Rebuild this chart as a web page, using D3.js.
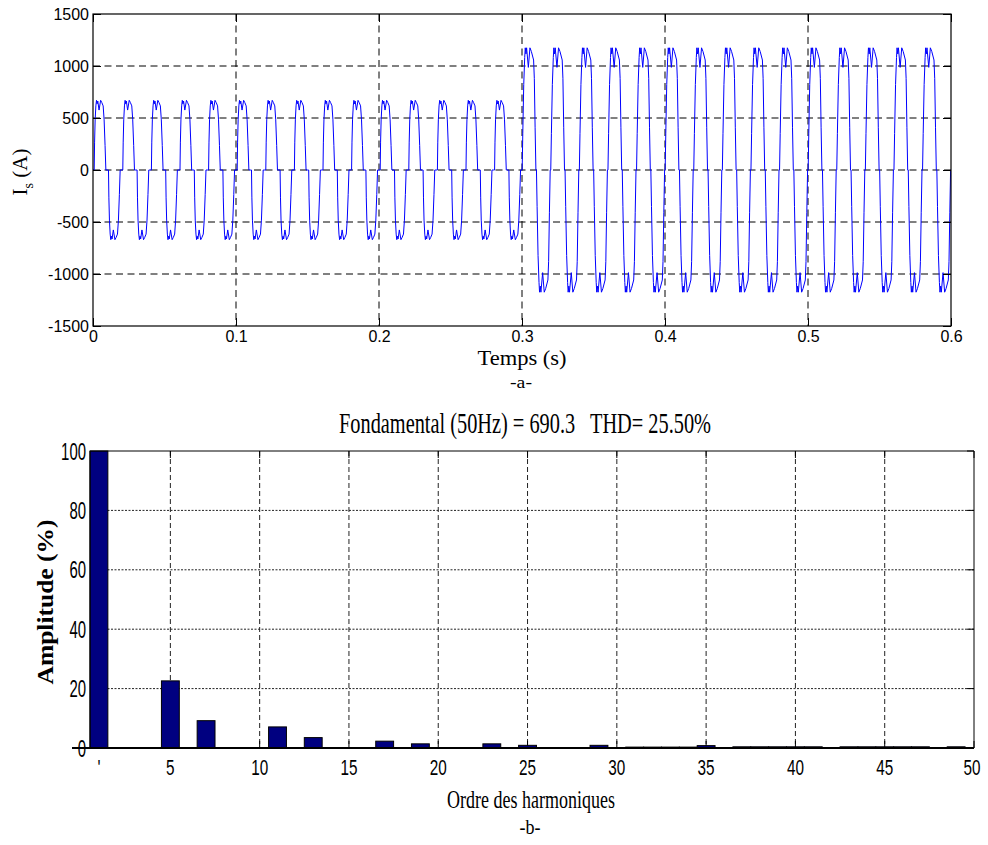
<!DOCTYPE html>
<html>
<head>
<meta charset="utf-8">
<script src="https://cdn.jsdelivr.net/npm/d3@7"></script>
<style>
  body { margin: 0; background: #fff; }
  .sans { font-family: "Liberation Sans", Arial, sans-serif; }
  .serif { font-family: "Liberation Serif", "Times New Roman", serif; }
</style>
</head>
<body>
<svg width="988" height="845"></svg>
<script>
// ---- top chart data: source current Is (A) ----
const cycleFreq = 50;             // Hz, one positive + one negative pulse per cycle
const timeEnd = 0.6;
const stepTimes = [0, 0.3];       // load step at 0.3 s
const stepPeaks = [670, 1175];    // pulse peak (A) in each interval
// one positive pulse, phase in degrees, value as share of the peak
const pulsePhase1 = [0, 15, 20, 27, 36, 44, 52, 60, 76, 96, 110, 128, 140, 152, 162];
const pulseShape1 = [0, 0, 0.4, 0.72, 0.92, 1.0, 0.95, 0.99, 0.86, 1.0, 0.97, 0.92, 0.72, 0.35, 0];
const pulsePhase2 = [0, 2, 10, 22, 34, 41, 50, 58, 80, 100, 118, 146, 155, 165, 175];
const pulseShape2 = [0, 0, 0.3, 0.7, 0.92, 1.0, 0.95, 1.0, 0.84, 1.0, 0.97, 0.9, 0.75, 0.35, 0];
const timeTicks = [0, 0.1, 0.2, 0.3, 0.4, 0.5, 0.6];
const timeTickLabels = ['0', '0.1', '0.2', '0.3', '0.4', '0.5', '0.6'];
const currentTicks = [-1500, -1000, -500, 0, 500, 1000, 1500];
const currentTickLabels = ['-1500', '-1000', '-500', '0', '500', '1000', '1500'];
const currentGrid = [-1000, -500, 0, 500, 1000];

// ---- bottom chart data: harmonic spectrum (% of fundamental) ----
const harmonicOrders = [1, 2, 3, 4, 5, 6, 7, 8, 9, 10, 11, 12, 13, 14, 15, 16, 17, 18, 19, 20,
  21, 22, 23, 24, 25, 26, 27, 28, 29, 30, 31, 32, 33, 34, 35, 36, 37, 38, 39, 40,
  41, 42, 43, 44, 45, 46, 47, 48, 49, 50];
const harmonicAmps = [100, 0, 0, 0, 22.6, 0, 9.2, 0, 0, 0, 7.1, 0, 3.5, 0, 0, 0, 2.3, 0, 1.4, 0,
  0, 0, 1.4, 0, 0.9, 0, 0, 0, 0.9, 0, 0.3, 0.3, 0.3, 0.3, 0.8, 0, 0.4, 0.4, 0.4, 0.4,
  0.4, 0, 0.4, 0.4, 0.4, 0.4, 0.4, 0, 0.4, 0];
const orderTicks = [1, 5, 10, 15, 20, 25, 30, 35, 40, 45, 50];
const orderTickLabels = ["'", '5', '10', '15', '20', '25', '30', '35', '40', '45', '50'];
const ampTicks = [0, 20, 40, 60, 80, 100];
const ampTickLabels = ['0', '20', '40', '60', '80', '100'];

const svg = d3.select('svg');

// =================== top: time waveform ===================
const tp = { left: 93, right: 951, top: 14, bottom: 326 };
const xT = d3.scaleLinear().domain([0, timeEnd]).range([tp.left, tp.right]);
const yT = d3.scaleLinear().domain([-1500, 1500]).range([tp.bottom, tp.top]);

// build the trace cycle by cycle from the pulse shapes above
const wave = [];
const nCycles = Math.round(timeEnd * cycleFreq);
for (let k = 0; k < nCycles; k++) {
  const t0 = k / cycleFreq;
  const seg = t0 + 1e-9 >= stepTimes[1] ? 1 : 0;
  const peak = stepPeaks[seg];
  const ph = seg ? pulsePhase2 : pulsePhase1;
  const sh = seg ? pulseShape2 : pulseShape1;
  [1, -1].forEach((sign, h) => {
    ph.forEach((p, j) => {
      wave.push({ t: t0 + (h * 180 + p) / 360 / cycleFreq, v: sign * peak * sh[j] });
    });
  });
}
wave.push({ t: timeEnd, v: 0 });

const gTop = svg.append('g');

gTop.append('clipPath').attr('id', 'clipTop')
  .append('rect')
    .attr('x', tp.left).attr('y', tp.top)
    .attr('width', tp.right - tp.left).attr('height', tp.bottom - tp.top);

// grid
gTop.selectAll('.vgrid').data(timeTicks.slice(1, -1)).join('line')
    .attr('x1', d => xT(d)).attr('x2', d => xT(d))
    .attr('y1', tp.top).attr('y2', tp.bottom)
    .attr('stroke', '#000').attr('stroke-dasharray', '7,4.5');
gTop.selectAll('.hgrid').data(currentGrid).join('line')
    .attr('x1', tp.left).attr('x2', tp.right)
    .attr('y1', d => yT(d)).attr('y2', d => yT(d))
    .attr('stroke', '#000').attr('stroke-dasharray', '7,4.5');

gTop.append('path')
    .datum(wave)
    .attr('clip-path', 'url(#clipTop)')
    .attr('fill', 'none')
    .attr('stroke', '#0000ff')
    .attr('stroke-width', 1)
    .attr('d', d3.line().x(d => xT(d.t)).y(d => yT(d.v)));

// axes, matlab style inward ticks
const styleAxis = g => {
  g.select('.domain').remove();
  g.selectAll('.tick line').attr('stroke', '#000');
  g.selectAll('.tick text').attr('class', 'sans').style('font-size', '16px').attr('fill', '#000');
};
gTop.append('g')
    .attr('transform', `translate(${tp.left},0)`)
    .call(d3.axisLeft(yT).tickValues(currentTicks).tickSize(-8).tickPadding(4)
      .tickFormat((d, i) => currentTickLabels[i]))
    .call(styleAxis);
gTop.append('g')
    .attr('transform', `translate(${tp.right},0)`)
    .call(d3.axisRight(yT).tickValues(currentTicks).tickSize(-8).tickFormat(''))
    .call(styleAxis);
gTop.append('g')
    .attr('transform', `translate(0,${tp.bottom})`)
    .call(d3.axisBottom(xT).tickValues(timeTicks).tickSize(-8).tickPadding(5)
      .tickFormat((d, i) => timeTickLabels[i]))
    .call(styleAxis);
gTop.append('g')
    .attr('transform', `translate(0,${tp.top})`)
    .call(d3.axisTop(xT).tickValues(timeTicks).tickSize(-8).tickFormat(''))
    .call(styleAxis);

gTop.append('rect')
    .attr('x', tp.left).attr('y', tp.top)
    .attr('width', tp.right - tp.left).attr('height', tp.bottom - tp.top)
    .attr('fill', 'none').attr('stroke', '#000').attr('stroke-width', 1.2);

const yLab = gTop.append('text')
    .attr('class', 'serif')
    .attr('transform', 'translate(27,172) rotate(-90)')
    .attr('text-anchor', 'middle')
    .style('font-size', '21px');
yLab.append('tspan').text('I');
yLab.append('tspan').attr('dy', 6).style('font-size', '14px').text('s');
yLab.append('tspan').attr('dy', -6).text(' (A)');

gTop.append('text')
    .attr('class', 'serif')
    .attr('x', 522).attr('y', 365)
    .attr('text-anchor', 'middle')
    .attr('textLength', 89).attr('lengthAdjust', 'spacingAndGlyphs')
    .style('font-size', '20px')
    .text('Temps (s)');
gTop.append('text')
    .attr('class', 'serif')
    .attr('x', 521).attr('y', 388)
    .attr('text-anchor', 'middle')
    .attr('textLength', 22).attr('lengthAdjust', 'spacingAndGlyphs')
    .style('font-size', '17px')
    .text('-a-');

// =================== bottom: harmonic spectrum ===================
const bt = { left: 90, right: 974, top: 451, bottom: 748 };
const xB = d3.scaleLinear().domain([0.5, 50]).range([bt.left, bt.right]);
const yB = d3.scaleLinear().domain([0, 100]).range([bt.bottom, bt.top]);
const gBot = svg.append('g');

gBot.append('text')
    .attr('class', 'serif')
    .attr('x', 525).attr('y', 433)
    .attr('text-anchor', 'middle')
    .attr('textLength', 372).attr('lengthAdjust', 'spacingAndGlyphs')
    .style('font-size', '30px')
    .style('white-space', 'pre')
    .text('Fondamental (50Hz) = 690.3   THD= 25.50%');

// grid
gBot.selectAll('.vgrid').data(orderTicks.slice(1, -1)).join('line')
    .attr('x1', d => xB(d)).attr('x2', d => xB(d))
    .attr('y1', bt.top).attr('y2', bt.bottom)
    .attr('stroke', '#222').attr('stroke-dasharray', '5,3');
gBot.selectAll('.hgrid').data(ampTicks.slice(1, -1)).join('line')
    .attr('x1', bt.left).attr('x2', bt.right)
    .attr('y1', d => yB(d)).attr('y2', d => yB(d))
    .attr('stroke', '#222').attr('stroke-dasharray', '2,1.5');

// ticks, inward on all four sides
gBot.selectAll('.tb').data(orderTicks).join('line')
    .attr('x1', d => xB(d)).attr('x2', d => xB(d))
    .attr('y1', bt.bottom).attr('y2', bt.bottom - 7).attr('stroke', '#000');
gBot.selectAll('.tt').data(orderTicks).join('line')
    .attr('x1', d => xB(d)).attr('x2', d => xB(d))
    .attr('y1', bt.top).attr('y2', bt.top + 7).attr('stroke', '#000');
gBot.selectAll('.tr').data(ampTicks).join('line')
    .attr('x1', bt.right).attr('x2', bt.right - 7)
    .attr('y1', d => yB(d)).attr('y2', d => yB(d)).attr('stroke', '#000');

// bars
const bars = harmonicOrders.map((n, i) => ({ n, a: harmonicAmps[i] })).filter(d => d.a > 0);
gBot.selectAll('.bar').data(bars).join('rect')
    .attr('x', d => xB(d.n - 0.5))
    .attr('width', xB(1.5) - xB(0.5))
    .attr('y', d => yB(d.a))
    .attr('height', d => yB(0) - yB(d.a))
    .attr('fill', '#000080')
    .attr('stroke', '#000')
    .attr('stroke-width', 1);

// box and baseline
gBot.append('path')
    .attr('d', `M${bt.left},${bt.bottom}V${bt.top}H${bt.right}V${bt.bottom}`)
    .attr('fill', 'none').attr('stroke', '#000').attr('stroke-width', 1);
gBot.append('line')
    .attr('x1', 72).attr('x2', bt.right)
    .attr('y1', yB(0)).attr('y2', yB(0))
    .attr('stroke', '#000').attr('stroke-width', 2.2);

// tick labels (narrow face)
gBot.selectAll('.yl').data(ampTicks).join('text')
    .attr('class', 'sans')
    .attr('x', 86).attr('y', d => yB(d) + 8.5)
    .attr('text-anchor', 'end')
    .attr('textLength', (d, i) => ampTickLabels[i].length * 8.3)
    .attr('lengthAdjust', 'spacingAndGlyphs')
    .style('font-size', '24px')
    .text((d, i) => ampTickLabels[i]);
gBot.selectAll('.xl').data(orderTicks).join('text')
    .attr('class', 'sans')
    .attr('x', (d, i) => xB(d) - (i === orderTicks.length - 1 ? 2 : 0)).attr('y', 775)
    .attr('text-anchor', 'middle')
    .attr('textLength', (d, i) => orderTickLabels[i].length * (i === 0 ? 3 : 8.5))
    .attr('lengthAdjust', 'spacingAndGlyphs')
    .style('font-size', '22px')
    .text((d, i) => orderTickLabels[i]);

gBot.append('text')
    .attr('class', 'serif')
    .attr('x', 531).attr('y', 808)
    .attr('text-anchor', 'middle')
    .attr('textLength', 168).attr('lengthAdjust', 'spacingAndGlyphs')
    .style('font-size', '25px')
    .text('Ordre des harmoniques');
gBot.append('text')
    .attr('class', 'serif')
    .attr('x', 530).attr('y', 834)
    .attr('text-anchor', 'middle')
    .attr('textLength', 21).attr('lengthAdjust', 'spacingAndGlyphs')
    .style('font-size', '22px')
    .text('-b-');
gBot.append('text')
    .attr('class', 'serif')
    .attr('transform', 'translate(53,602) rotate(-90)')
    .attr('text-anchor', 'middle')
    .attr('textLength', 165).attr('lengthAdjust', 'spacingAndGlyphs')
    .style('font-size', '24px')
    .style('font-weight', 'bold')
    .text('Amplitude (%)');
</script>
</body>
</html>
